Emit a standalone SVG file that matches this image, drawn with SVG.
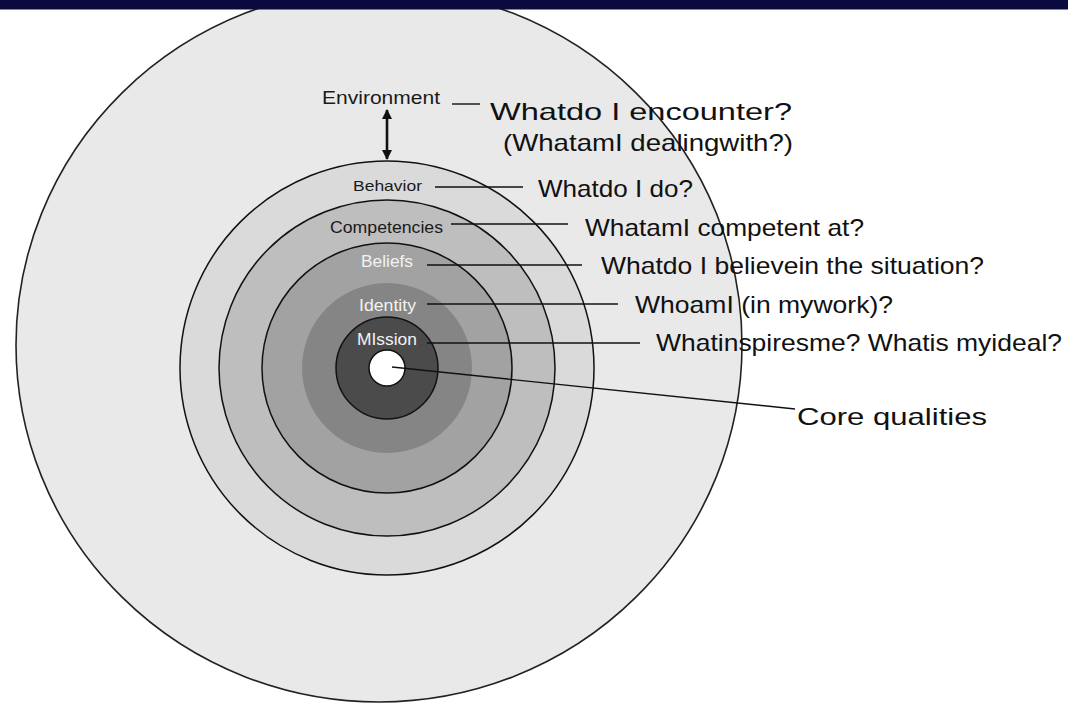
<svg xmlns="http://www.w3.org/2000/svg" width="1068" height="707" viewBox="0 0 1068 707">
<style>
.ring{stroke:#111;stroke-width:1.5}
.lbl{font-family:"Liberation Sans",Arial,sans-serif}
.q{font-family:"Liberation Sans",Arial,sans-serif;font-size:24px;fill:#111}
.dark{fill:#1a1a1a}
.light{fill:#f2f2f2}
.lead{stroke:#111;stroke-width:1.4;fill:none}
.dbl{stroke:#111;stroke-width:2.6;fill:none}
</style>
<defs>
<marker id="ah" viewBox="0 0 10 10" refX="9" refY="5" markerWidth="11" markerHeight="10" markerUnits="userSpaceOnUse" orient="auto-start-reverse">
<path d="M0,0 L10,5 L0,10 z" fill="#111"/>
</marker>
</defs>
<rect width="1068" height="707" fill="#ffffff"/>
<g id="environment">
<ellipse cx="379" cy="345" rx="363" ry="357" fill="#e9e9e9" stroke="#222" stroke-width="1.6"/>
<text class="lbl dark" x="322" y="104" font-size="17.5" textLength="118" lengthAdjust="spacingAndGlyphs">Environment</text>
</g>
<g id="behavior">
<circle class="ring" cx="387" cy="368" r="207" fill="#dadada"/>
<text class="lbl dark" x="353" y="191" font-size="15" textLength="69" lengthAdjust="spacingAndGlyphs">Behavior</text>
</g>
<g id="competencies">
<circle class="ring" cx="387" cy="368" r="168" fill="#bebebe"/>
<text class="lbl dark" x="330" y="233" font-size="16" textLength="113" lengthAdjust="spacingAndGlyphs">Competencies</text>
</g>
<g id="beliefs">
<circle class="ring" cx="387" cy="368" r="125" fill="#a2a2a2"/>
<text class="lbl light" x="361" y="267" font-size="17" textLength="52" lengthAdjust="spacingAndGlyphs">Beliefs</text>
</g>
<g id="identity">
<circle cx="387" cy="368" r="85" fill="#858585"/>
<text class="lbl light" x="359" y="311" font-size="17" textLength="57" lengthAdjust="spacingAndGlyphs">Identity</text>
</g>
<g id="mission">
<circle class="ring" cx="387" cy="368" r="51" fill="#4b4b4b"/>
<text class="lbl light" x="357" y="345" font-size="17" textLength="60" lengthAdjust="spacingAndGlyphs">MIssion</text>
</g>
<g id="core">
<circle class="ring" cx="387" cy="368" r="18" fill="#ffffff"/>
</g>
<rect x="0" y="0" width="1068" height="9.5" fill="#0a0a3e"/>
<g id="connectors">
<line class="dbl" x1="387" y1="110" x2="387" y2="159" marker-start="url(#ah)" marker-end="url(#ah)"/>
<line class="lead" x1="452" y1="104" x2="480" y2="104"/>
<line class="lead" x1="435" y1="187" x2="523" y2="187"/>
<line class="lead" x1="451" y1="224" x2="568" y2="224"/>
<line class="lead" x1="427" y1="265" x2="582" y2="265"/>
<line class="lead" x1="427" y1="304" x2="618" y2="304"/>
<line class="lead" x1="427" y1="343" x2="640" y2="343"/>
<line class="lead" x1="392" y1="367" x2="795" y2="409"/>
</g>
<g id="questions">
<text class="q" x="490" y="120" textLength="302" lengthAdjust="spacingAndGlyphs">Whatdo I encounter?</text>
<text class="q" x="503" y="151" textLength="290" lengthAdjust="spacingAndGlyphs">(WhatamI dealingwith?)</text>
<text class="q" x="538" y="197" textLength="155" lengthAdjust="spacingAndGlyphs">Whatdo I do?</text>
<text class="q" x="585" y="236" textLength="279" lengthAdjust="spacingAndGlyphs">WhatamI competent at?</text>
<text class="q" x="601" y="274" textLength="383" lengthAdjust="spacingAndGlyphs">Whatdo I believein the situation?</text>
<text class="q" x="635" y="313" textLength="258" lengthAdjust="spacingAndGlyphs">WhoamI (in mywork)?</text>
<text class="q" x="656" y="351" textLength="406" lengthAdjust="spacingAndGlyphs">Whatinspiresme? Whatis myideal?</text>
<text class="q" x="797" y="425" font-size="30" textLength="190" lengthAdjust="spacingAndGlyphs">Core qualities</text>
</g>
</svg>
